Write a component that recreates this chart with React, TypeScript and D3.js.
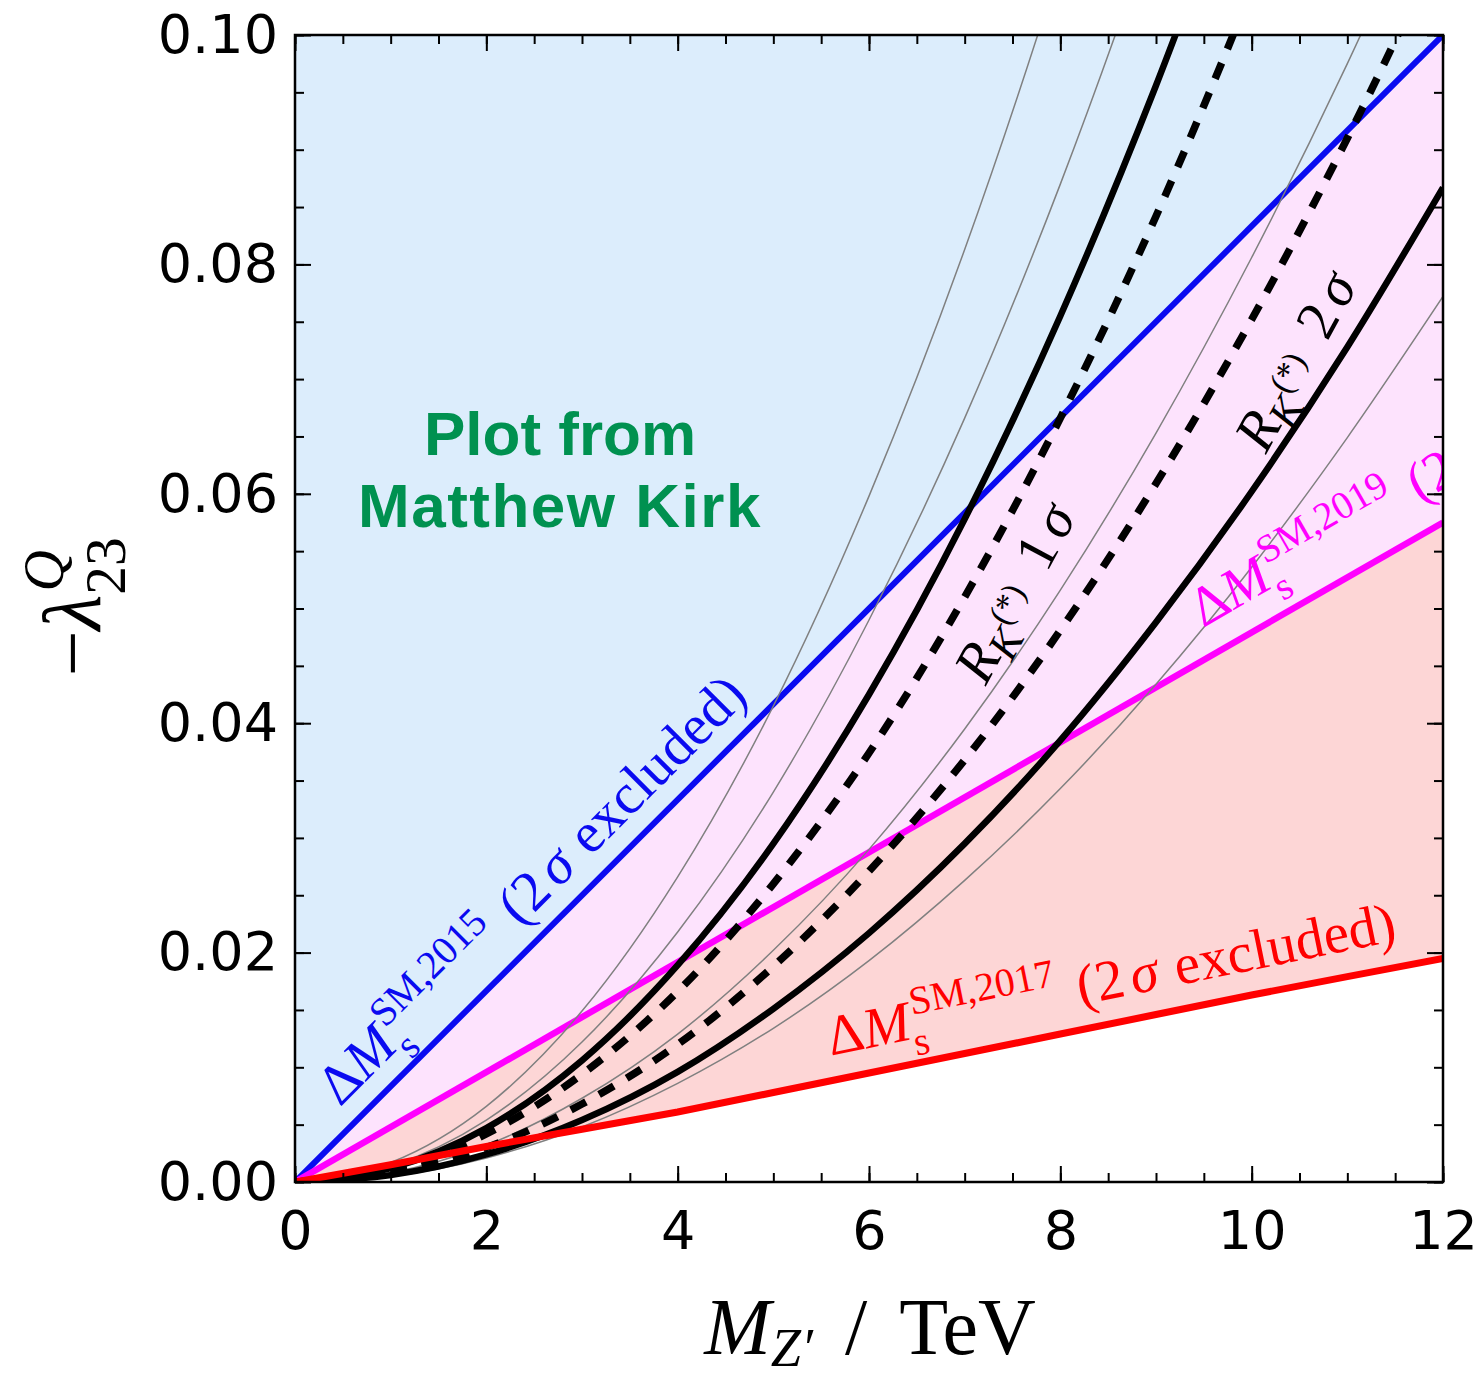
import { useEffect, useRef } from "react";
import * as d3 from "d3";

const W = 1482;
const H = 1376;
const M = { left: 295, top: 35, right: 1443, bottom: 1182 };

// Delta M_s bounds (straight lines from the origin)
const lineX = [0, 12];
const dm2015 = [0, 0.1];
const dm2019 = [0, 0.0575];
const redX = [0, 1, 2, 3, 4, 5, 6, 7, 8, 9, 10, 11, 12];
const dm2017 = [0, 0.0015, 0.0031, 0.0046, 0.0061, 0.0078, 0.0095, 0.0112, 0.0129, 0.0146, 0.0163, 0.0179, 0.0195];

// R_K(*) contours, read at M_Z' = 0..12 TeV
const curveX = [0, 1, 2, 3, 4, 5, 6, 7, 8, 9, 10, 11, 12];
const gray1 = [0, 0.0017, 0.0066, 0.0149, 0.0266, 0.0415, 0.0598, 0.0813, 0.1062, 0.1345];
const gray2 = [0, 0.0014, 0.0054, 0.0122, 0.0218, 0.034, 0.049, 0.0666, 0.087, 0.1102, 0.136];
const solid1 = [0, 0.0012, 0.0047, 0.0106, 0.0189, 0.0295, 0.0425, 0.0578, 0.0755, 0.0956, 0.118];
const dash1 = [0, 0.001, 0.0042, 0.0094, 0.0166, 0.026, 0.0374, 0.051, 0.0666, 0.0842, 0.104, 0.1258];
const gray3 = [0, 0.0008, 0.0032, 0.0073, 0.0129, 0.0202, 0.029, 0.0395, 0.0516, 0.0653, 0.0806, 0.0975, 0.1161];
const dash2 = [0, 0.0008, 0.003, 0.0068, 0.012, 0.0188, 0.0271, 0.0368, 0.0481, 0.0609, 0.0752, 0.091, 0.1083];
const solid2 = [0, 0.0006, 0.0024, 0.0054, 0.0096, 0.0151, 0.0217, 0.0295, 0.0385, 0.0488, 0.0602, 0.0728, 0.0867];
const gray4 = [0, 0.0005, 0.0021, 0.0048, 0.0086, 0.0134, 0.0193, 0.0263, 0.0343, 0.0434, 0.0536, 0.0649, 0.0772];

const xMajor = [0, 2, 4, 6, 8, 10, 12];
const yMajor = [0, 0.02, 0.04, 0.06, 0.08, 0.1];

type Seg = { t: string; it?: boolean; s?: number; dy?: number; dx?: number; pad?: number; stack?: boolean };

const dmSegs = (year: string): Seg[] => [
  { t: "Δ" },
  { t: "M", it: true },
  { t: `SM,${year}`, s: 0.7, dy: 0.42, dx: 0.06 },
  { t: "s", s: 0.7, dy: -0.3, stack: true },
  { t: "(", pad: 0.35 },
  { t: "2" },
  { t: "σ", it: true, pad: 0.12 },
  { t: "excluded)", pad: 0.3 },
];

const rkSegs = (n: string): Seg[] => [
  { t: "R", it: true },
  { t: "K", it: true, s: 0.75, dy: -0.2, dx: -0.03 },
  { t: "(*)", s: 0.6, dy: 0.16, pad: 0.02 },
  { t: n, pad: 0.45 },
  { t: "σ", it: true, pad: 0.14 },
];

const labels = [
  { segs: dmSegs("2015"), at: [0.47, 0.0065], angle: -45, size: 57, color: "#0a0af0" },
  { segs: dmSegs("2019"), at: [9.49, 0.0483], angle: -30, size: 56, color: "#ff00ff" },
  { segs: dmSegs("2017"), at: [5.6, 0.011], angle: -11.5, size: 57, color: "#ff0000" },
  { segs: rkSegs("1"), at: [7.22, 0.0432], angle: -61.7, size: 57, color: "#000" },
  { segs: rkSegs("2"), at: [10.15, 0.0634], angle: -61.5, size: 57, color: "#000" },
];

const SERIF = "Liberation Serif, DejaVu Serif, serif";

function rich(g: d3.Selection<SVGGElement, unknown, null, undefined>, segs: Seg[], F: number, color: string) {
  let cur = 0;
  let lastStart = 0;
  segs.forEach((sg) => {
    const start = sg.stack ? lastStart : cur + (sg.pad ?? 0) * F;
    const t = g
      .append("text")
      .attr("x", start + (sg.dx ?? 0) * F)
      .attr("y", -(sg.dy ?? 0) * F)
      .attr("font-family", SERIF)
      .attr("font-size", (sg.s ?? 1) * F)
      .attr("font-style", sg.it ? "italic" : "normal")
      .attr("fill", color)
      .text(sg.t);
    const w = (t.node() as SVGTextElement).getComputedTextLength();
    cur = Math.max(cur, start + (sg.dx ?? 0) * F + w);
    lastStart = start;
  });
  return cur;
}

export default function App() {
  const svgRef = useRef<SVGSVGElement>(null);

  useEffect(() => {
    if (!svgRef.current) return;
    const svg = d3.select(svgRef.current);
    svg.selectAll("*").remove();

    const x = d3.scaleLinear().domain([0, 12]).range([M.left, M.right]);
    const y = d3.scaleLinear().domain([0, 0.1]).range([M.bottom, M.top]);

    svg
      .append("defs")
      .append("clipPath")
      .attr("id", "plot")
      .append("rect")
      .attr("x", M.left)
      .attr("y", M.top)
      .attr("width", M.right - M.left)
      .attr("height", M.bottom - M.top);

    const plot = svg.append("g").attr("clip-path", "url(#plot)");
    const poly = d3.line<[number, number]>().x((d) => x(d[0])).y((d) => y(d[1]));

    // shaded regions
    const top: [number, number][] = [[lineX[0], dm2015[0]], [lineX[1], dm2015[1]], [0, 0.1]];
    const pink: [number, number][] = [[lineX[0], dm2015[0]], [lineX[1], dm2015[1]], [lineX[1], dm2019[1]]];
    const red: [number, number][] = [
      [lineX[0], dm2019[0]],
      [lineX[1], dm2019[1]],
      ...redX.map((v, i) => [v, dm2017[i]] as [number, number]).reverse(),
    ];
    plot.append("path").attr("d", poly(top) + "Z").attr("fill", "#dcedfc");
    plot.append("path").attr("d", poly(pink) + "Z").attr("fill", "#fde3fd");
    plot.append("path").attr("d", poly(red) + "Z").attr("fill", "#fdd6d6");

    // Delta M_s lines
    plot.append("path").attr("d", poly(lineX.map((v, i) => [v, dm2015[i]]))).attr("stroke", "#0a0af0").attr("stroke-width", 6).attr("fill", "none");
    plot.append("path").attr("d", poly(lineX.map((v, i) => [v, dm2019[i]]))).attr("stroke", "#ff00ff").attr("stroke-width", 6.5).attr("fill", "none");

    // R_K contours
    const smooth = d3
      .line<[number, number]>()
      .x((d) => x(d[0]))
      .y((d) => y(d[1]))
      .curve(d3.curveMonotoneX);
    const curves = [
      { v: gray1, kind: "gray" },
      { v: gray2, kind: "gray" },
      { v: gray3, kind: "gray" },
      { v: gray4, kind: "gray" },
      { v: solid1, kind: "solid" },
      { v: solid2, kind: "solid" },
      { v: dash1, kind: "dash" },
      { v: dash2, kind: "dash" },
    ];
    curves.forEach((c) => {
      const p = plot
        .append("path")
        .attr("d", smooth(c.v.map((v, i) => [curveX[i], v])))
        .attr("fill", "none");
      if (c.kind === "gray") p.attr("stroke", "#808080").attr("stroke-width", 1.5);
      if (c.kind === "solid") p.attr("stroke", "#000").attr("stroke-width", 6.5);
      if (c.kind === "dash") p.attr("stroke", "#000").attr("stroke-width", 7.5).attr("stroke-dasharray", "17,15");
    });

    plot
      .append("path")
      .attr("d", poly(redX.map((v, i) => [v, dm2017[i]])))
      .attr("stroke", "#ff0000")
      .attr("stroke-width", 7)
      .attr("fill", "none");

    // annotations
    labels.forEach((l) => {
      const g = plot
        .append("g")
        .attr("transform", `translate(${x(l.at[0])},${y(l.at[1])}) rotate(${l.angle})`);
      rich(g, l.segs, l.size, l.color);
    });

    const green = plot.append("g").attr("font-family", "Liberation Sans, Arial, sans-serif").attr("font-weight", "bold").attr("font-size", 62).attr("fill", "#009150").attr("text-anchor", "middle");
    green.append("text").attr("x", 560).attr("y", 455).text("Plot from");
    green.append("text").attr("x", 560).attr("y", 527).attr("letter-spacing", 1.5).text("Matthew Kirk");

    // axes: ticks inward on all sides
    const xMinor = d3.range(0, 12.001, 0.5);
    const yMinor = d3.range(0, 0.1001, 0.005);
    const style = (g: d3.Selection<SVGGElement, unknown, null, undefined>) => {
      g.select(".domain").remove();
      g.selectAll("line").attr("stroke", "#000").attr("stroke-width", 2);
      g.attr("font-family", "DejaVu Sans, sans-serif").attr("font-size", 54);
      g.selectAll("text").attr("fill", "#000");
    };
    const add = (axis: d3.Axis<d3.NumberValue>, tx: string) => svg.append("g").attr("transform", tx).call(axis).call(style);

    add(d3.axisBottom(x).tickValues(xMinor).tickSize(-9).tickFormat(() => ""), `translate(0,${M.bottom})`);
    add(d3.axisBottom(x).tickValues(xMajor).tickSize(-16).tickPadding(29).tickFormat(d3.format("d")), `translate(0,${M.bottom})`);
    add(d3.axisTop(x).tickValues(xMinor).tickSize(-9).tickFormat(() => ""), `translate(0,${M.top})`);
    add(d3.axisTop(x).tickValues(xMajor).tickSize(-16).tickFormat(() => ""), `translate(0,${M.top})`);
    add(d3.axisLeft(y).tickValues(yMinor).tickSize(-9).tickFormat(() => ""), `translate(${M.left},0)`);
    add(d3.axisLeft(y).tickValues(yMajor).tickSize(-16).tickPadding(17).tickFormat(d3.format(".2f")), `translate(${M.left},0)`);
    add(d3.axisRight(y).tickValues(yMinor).tickSize(-9).tickFormat(() => ""), `translate(${M.right},0)`);
    add(d3.axisRight(y).tickValues(yMajor).tickSize(-16).tickFormat(() => ""), `translate(${M.right},0)`);

    svg
      .append("rect")
      .attr("x", M.left)
      .attr("y", M.top)
      .attr("width", M.right - M.left)
      .attr("height", M.bottom - M.top)
      .attr("fill", "none")
      .attr("stroke", "#000")
      .attr("stroke-width", 2.5);

    // axis titles
    const xl = svg.append("g").attr("transform", `translate(870,1354)`);
    const xin = xl.append("g");
    const xw = rich(xin, [
      { t: "M", it: true },
      { t: "Z′", it: true, s: 0.68, dy: -0.15 },
      { t: "/", pad: 0.4 },
      { t: "TeV", pad: 0.4 },
    ], 80, "#000");
    xin.attr("transform", `translate(${-xw / 2},0)`);

    const yl = svg.append("g").attr("transform", `translate(100,607) rotate(-90)`);
    const yin = yl.append("g");
    const yw = rich(yin, [
      { t: "−" },
      { t: "λ", it: true },
      { t: "Q", it: true, s: 0.7, dy: 0.45, dx: 0.04 },
      { t: "23", s: 0.7, dy: -0.3, stack: true },
    ], 82, "#000");
    yin.attr("transform", `translate(${-yw / 2},0)`);
  }, []);

  return (
    <div style={{ position: "absolute", left: 0, top: 0 }}>
      <svg ref={svgRef} width={W} height={H} style={{ display: "block", background: "#fff" }} />
    </div>
  );
}
